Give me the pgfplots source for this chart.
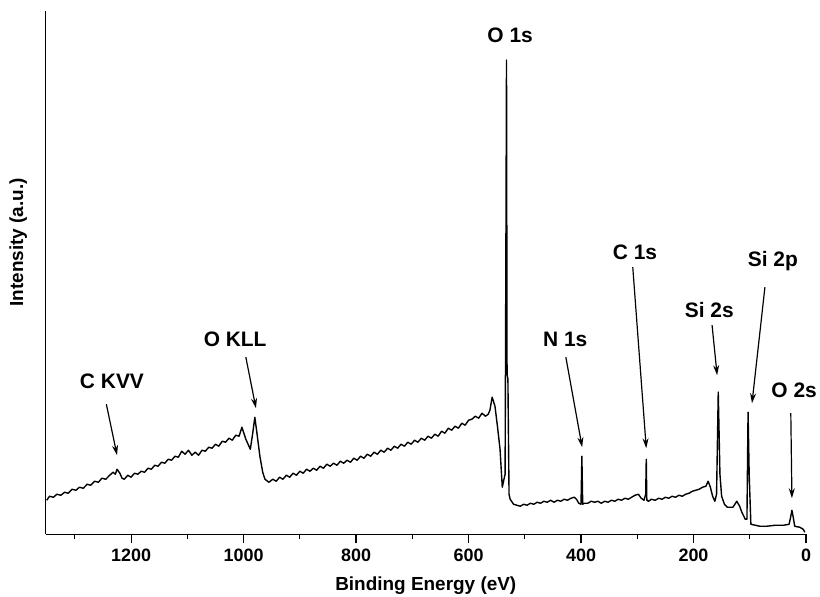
\documentclass[border=0pt]{standalone}
\usepackage{pgfplots}
\pgfplotsset{compat=1.18}
\usepackage{fontspec}
\setmainfont{Liberation Sans}
\usetikzlibrary{arrows.meta}
\begin{document}
\begin{tikzpicture}
\begin{axis}[
  scale only axis, width=760bp, height=523bp,
  xmin=0, xmax=1352, ymin=0, ymax=523,
  x dir=reverse,
  axis x line*=bottom, axis y line*=left,
  axis line style={line width=1.4pt},
  ytick=\empty,
  xtick={0,200,400,600,800,1000,1200},
  minor xtick={100,300,500,700,900,1100,1300},
  tick align=outside,
  major tick length=9bp, minor tick length=5bp,
  every tick/.style={line width=1.2pt, black},
  /pgf/number format/1000 sep={},
  /pgf/number format/assume math mode=true,
  xticklabel style={font=\bfseries\fontsize{18}{20}\selectfont, yshift=-2bp},
  xlabel={Binding Energy (eV)},
  ylabel={Intensity (a.u.)},
  xlabel style={font=\bfseries\fontsize{19}{22}\selectfont, at={(axis description cs:0.5,-0.098)}, anchor=center},
  ylabel style={font=\bfseries\fontsize{19}{22}\selectfont, at={(axis description cs:-0.036,0.558)}, anchor=center, rotate=0},
  clip=false,
]
\addplot[black, line width=1.4pt, line join=round] coordinates {
(1350,34) (1345,38) (1338,37) (1332,40) (1325,39) (1318,42) (1312,41) (1305,45) (1298,44) (1292,47)
(1285,46) (1278,50) (1272,49) (1265,53) (1258,52) (1252,56) (1245,55) (1238,59) (1232,62) (1228,60)
(1225,65) (1220,61) (1216,56) (1212,55) (1206,59) (1200,57) (1194,61) (1188,60) (1182,63) (1176,62)
(1170,66) (1164,65) (1158,69) (1152,68) (1146,72) (1140,71) (1134,75) (1128,74) (1122,78) (1116,77)
(1110,83) (1104,80) (1098,84) (1092,79) (1086,82) (1080,79) (1074,84) (1068,83) (1062,87) (1056,86)
(1050,90) (1044,88) (1038,93) (1032,92) (1026,96) (1020,94) (1014,99) (1008,98) (1003,107) (996,95)
(988,85) (984,100) (980,117) (976,100) (971,78) (966,62) (962,55) (955,52) (948,55) (942,53)
(936,57) (930,55) (924,59) (918,57) (912,61) (906,59) (900,63) (894,61) (888,65) (882,63)
(876,66) (870,64) (864,68) (858,66) (852,70) (846,68) (840,71) (834,69) (828,73) (822,71)
(816,74) (810,72) (804,76) (798,74) (792,78) (786,76) (780,80) (774,78) (768,82) (762,80)
(756,84) (750,82) (744,86) (738,84) (732,88) (726,86) (720,90) (714,88) (708,92) (702,90)
(696,94) (690,92) (684,96) (678,94) (672,98) (666,96) (660,100) (654,98) (648,103) (642,101)
(636,106) (630,104) (624,108) (618,106) (612,111) (606,109) (600,114) (594,115) (588,118) (582,116)
(576,121) (570,118) (565,120) (562,124) (558,137) (553,128) (548,105) (544,85) (540,47) (537,55)
(535,60) (533.5,300) (532.5,474) (531.5,160) (530,155) (528,40) (526,35) (520,30) (514,29) (508,28)
(502,30) (496,29) (490,31) (484,30) (478,32) (472,31) (466,33) (460,32) (454,34) (448,32)
(442,34) (436,33) (430,35) (424,34) (418,36) (412,37) (408,35) (404,31) (400,30) (398.5,78)
(397,30) (394,31) (388,31) (382,33) (376,32) (370,33) (364,31) (358,33) (352,32) (346,34)
(340,33) (334,35) (328,34) (322,36) (316,35) (310,37) (304,39) (298,40) (293,36) (288,34)
(285,40) (284,75) (283,34) (280,33) (275,35) (268,34) (262,36) (256,35) (250,37) (244,36)
(238,38) (232,37) (226,39) (220,38) (214,40) (208,41) (202,43) (196,44) (190,45) (184,47)
(178,48) (174,53) (170,47) (166,38) (162,33) (159,40) (156,142) (153,60) (150,38) (145,30)
(140,27) (130,27) (123,33) (118,28) (114,22) (108,15) (105,15) (103,122) (101,60) (98,10)
(90,9) (82,8) (70,8) (55,9) (40,9) (30,10) (27,18) (25,24) (23,18) (20,8)
(11,7) (5,5) (2,2)
};
\begin{scope}[every node/.style={font=\bfseries\fontsize{21}{24}\selectfont}]
\node at (axis cs:526,499) {O 1s};
\node at (axis cs:304,282) {C 1s};
\node at (axis cs:59,273) {Si 2p};
\node at (axis cs:172,224) {Si 2s};
\node at (axis cs:21,144) {O 2s};
\node at (axis cs:428,195) {N 1s};
\node at (axis cs:1015,195) {O KLL};
\node at (axis cs:1234,153) {C KVV};
\end{scope}
\begin{scope}[line width=1.2pt, -{Stealth[length=10bp,width=6bp]}]
\draw (axis cs:1244,130) -- (axis cs:1225,79);
\draw (axis cs:996,177) -- (axis cs:978,126);
\draw (axis cs:427,177) -- (axis cs:398,87);
\draw (axis cs:308,267) -- (axis cs:284,86);
\draw (axis cs:167,209) -- (axis cs:158,159);
\draw (axis cs:73,247) -- (axis cs:96,131);
\draw (axis cs:27,121) -- (axis cs:25,36);
\end{scope}
\end{axis}
\pgfresetboundingbox
\path[use as bounding box] ([shift={(-45.6bp,-62bp)}]current axis.south west) rectangle ([shift={(14bp,11bp)}]current axis.north east);
\end{tikzpicture}
\end{document}
